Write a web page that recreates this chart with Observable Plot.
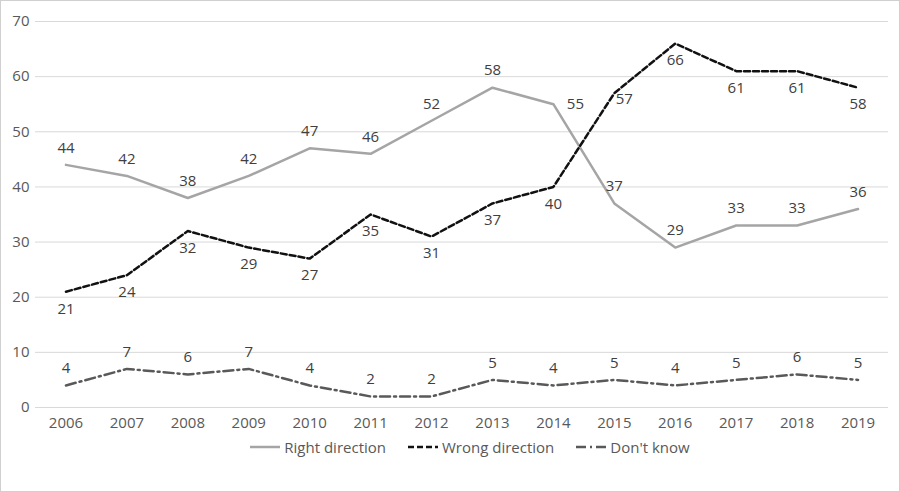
<!DOCTYPE html>
<html><head><meta charset="utf-8">
<script src="https://cdn.jsdelivr.net/npm/d3@7"></script>
<script src="https://cdn.jsdelivr.net/npm/@observablehq/plot@0.6"></script>
<style>
body{margin:0;background:#fff;font-family:"Open Sans",sans-serif;}
#wrap{width:898px;height:490px;border:1px solid #d0d0d0;position:relative;overflow:hidden}
#legend{display:flex;justify-content:center;gap:22px;font-size:15px;color:#595959;margin-top:6px;padding-left:40px}
#legend span{display:flex;align-items:center;gap:4px}
</style></head><body>
<div id="wrap"><div id="chart"></div><div id="legend"></div></div>
<script>
const years=[2006,2007,2008,2009,2010,2011,2012,2013,2014,2015,2016,2017,2018,2019];
const right=[44,42,38,42,47,46,52,58,55,37,29,33,33,36];
const wrong=[21,24,32,29,27,35,31,37,40,57,66,61,61,58];
const dontKnow=[4,7,6,7,4,2,2,5,4,5,4,5,6,5];
const series=[
 {name:"Right direction",vals:right,color:"#a5a5a5",dash:null,dy:-17,shift:2014,sdx:22},
 {name:"Wrong direction",vals:wrong,color:"#111",dash:"6,3",dy:17,shift:2015,sdx:10},
 {name:"Don't know",vals:dontKnow,color:"#595959",dash:"10,4,2,4",dy:-17,shift:null,sdx:0}
];
const marks=[Plot.gridY([0,10,20,30,40,50,60,70],{stroke:"#d9d9d9",strokeOpacity:1})];
for(const s of series){
 const d=years.map((y,i)=>({y,v:s.vals[i]}));
 marks.push(Plot.line(d,{x:"y",y:"v",stroke:s.color,strokeWidth:2.5,strokeDasharray:s.dash}));
 marks.push(Plot.text(d.filter(p=>p.y!==s.shift),{x:"y",y:"v",text:p=>String(p.v),dy:s.dy,fill:"#404040",fontSize:15}));
 const sh=d.filter(p=>p.y===s.shift);
 if(sh.length) marks.push(Plot.text(sh,{x:"y",y:"v",text:p=>String(p.v),dy:s.name==="Right direction"?0:6,dx:s.sdx,fill:"#404040",fontSize:15}));
}
const chart=Plot.plot({width:898,height:430,marginTop:20,marginBottom:24,marginLeft:34,marginRight:11,
 style:{fontFamily:"Open Sans, sans-serif",fontSize:"15px",color:"#595959"},
 x:{domain:[2005.5,2019.5],ticks:years,tickFormat:d=>String(d),tickSize:0,label:null,tickPadding:10},
 y:{domain:[0,70],ticks:[0,10,20,30,40,50,60,70],tickSize:0,label:null,tickPadding:6},
 marks});
document.getElementById("chart").appendChild(chart);
const lg=document.getElementById("legend");
for(const s of series){
 const sp=document.createElement("span");
 sp.innerHTML=`<svg width="30" height="10"><line x1="0" x2="30" y1="5" y2="5" stroke="${s.color}" stroke-width="2.5" ${s.dash?`stroke-dasharray="${s.dash}"`:""}/></svg>${s.name}`;
 lg.appendChild(sp);
}
</script></body></html>
